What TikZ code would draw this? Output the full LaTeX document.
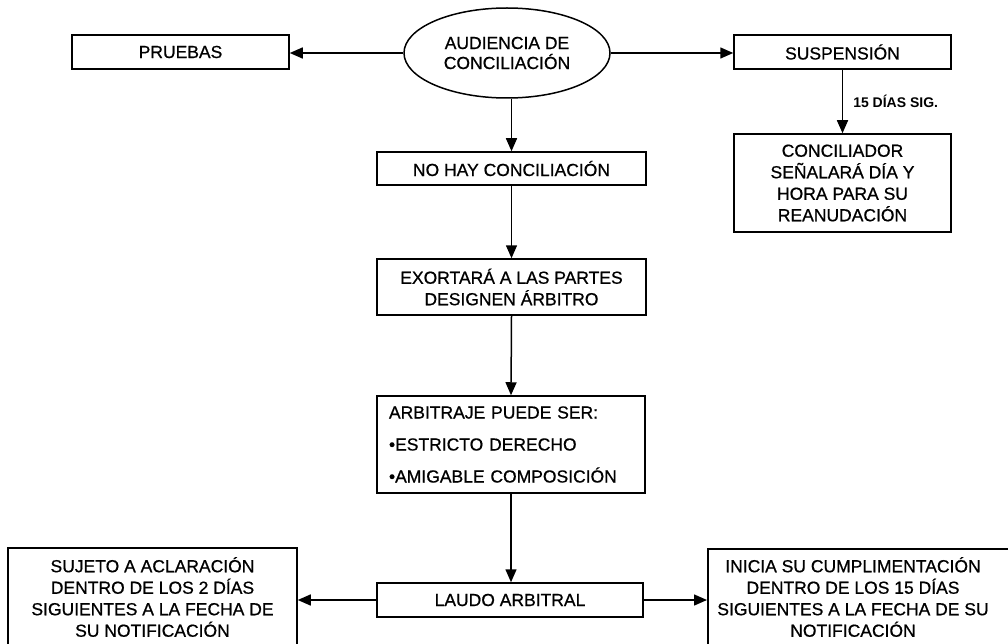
\documentclass[tikz,border=0pt]{standalone}
\usepackage{fontspec}
\setmainfont{Liberation Sans}
% slightly heavier version of the regular face for the box texts
\newfontfamily\boxfont[FakeBold=0.7]{Liberation Sans}
\usetikzlibrary{arrows.meta,shapes.geometric}
\begin{document}
\begin{tikzpicture}[x=1pt,y=-1pt,
  every node/.style={font=\boxfont\fontsize{17.5}{21.5}\selectfont, inner sep=0pt},
  box/.style={draw, line width=1.5pt, rectangle, align=center},
  oval/.style={draw, line width=1.5pt, ellipse, align=center},
  arr/.style={line width=1.5pt, -{Triangle[length=13pt,width=11pt]}},
  note/.style={font=\fontsize{14}{16}\selectfont\bfseries}]
\useasboundingbox (0,0) rectangle (1008,644);
\clip (0,0) rectangle (1008,644);

% top row
\node[oval, minimum width=206, minimum height=90,
      font=\boxfont\fontsize{17.5}{20}\selectfont] (aud) at (507,53) {AUDIENCIA DE\\CONCILIACIÓN};
\node[box, minimum width=217, minimum height=34] (pruebas) at (180.5,52) {PRUEBAS};
\node[box, minimum width=217, minimum height=34] (susp) at (842.5,52) {SUSPENSIÓN};

% suspension branch
\node[box, minimum width=217, minimum height=98] (concil) at (842.5,183)
  {CONCILIADOR\\SEÑALARÁ DÍA Y\\HORA PARA SU\\REANUDACIÓN};

% central column
\node[box, minimum width=269, minimum height=33] (nohay) at (511.5,168.5) {NO HAY CONCILIACIÓN};
\node[box, minimum width=269, minimum height=56] (exort) at (511.5,287)
  {EXORTARÁ A LAS PARTES\\DESIGNEN ÁRBITRO};
\node[box, minimum width=268, minimum height=97, text width=244pt, align=left,
      font=\boxfont\fontsize{17.5}{32}\selectfont] (arbit) at (511,444.5)
  {ARBITRAJE PUEDE SER:\\•ESTRICTO DERECHO\\•AMIGABLE COMPOSICIÓN};
\node[box, minimum width=266, minimum height=34] (laudo) at (510,600) {LAUDO ARBITRAL};

% outcome boxes at the bottom
\node[box, minimum width=289, minimum height=98] (sujeto) at (152.5,597)
  {SUJETO A ACLARACIÓN\\DENTRO DE LOS 2 DÍAS\\SIGUIENTES A LA FECHA DE\\SU NOTIFICACIÓN};
\node[box, minimum width=320, minimum height=98, anchor=north west] (inicia) at (707,548) {};
\node[align=center] (iniciatxt) at (853,597)
  {INICIA SU CUMPLIMENTACIÓN\\DENTRO DE LOS 15 DÍAS\\SIGUIENTES A LA FECHA DE SU\\NOTIFICACIÓN};

% connectors
\draw[arr] (aud.west) -- (aud.west -| pruebas.east);
\draw[arr] (aud.east) -- (aud.east -| susp.west);
\draw[arr] (susp.south) -- node[note, right=10pt] (plazo) {15 DÍAS SIG.} (concil.north);
\draw[arr] (nohay.north |- aud.south) -- (nohay.north);
\draw[arr] (nohay.south) -- (exort.north);
\draw[arr] (exort.south) -- (arbit.north);
\draw[arr] (arbit.south) -- (arbit.south |- laudo.north);
\draw[arr] (laudo.west) -- (laudo.west -| sujeto.east);
\draw[arr] (laudo.east) -- (laudo.east -| inicia.west);
\end{tikzpicture}
\end{document}
